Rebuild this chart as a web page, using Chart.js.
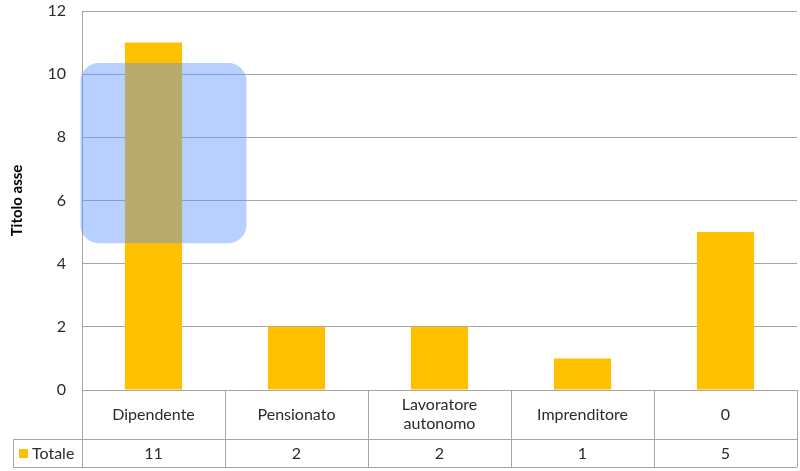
<!DOCTYPE html>
<html>
<head>
<meta charset="utf-8">
<script src="https://cdn.jsdelivr.net/npm/chart.js@4"></script>
<style>
  html, body { margin: 0; padding: 0; background: #fff; }
  #wrap { width: 800px; height: 471px; }
</style>
</head>
<body>
<div id="wrap"><canvas id="chart"></canvas></div>
<script>
// dati del grafico
const categorie = ['Dipendente', 'Pensionato', ['Lavoratore', 'autonomo'], 'Imprenditore', '0'];
const totale = [11, 2, 2, 1, 5];
const nomeSerie = 'Totale';
const titoloAsse = 'Titolo asse';
const yMax = 12;
const yStep = 2;

const FONT = 'Lato, "Open Sans", sans-serif';
const TEXT = '#2b2b2b';
const LINE = '#a6a6a6';

// tabella dati sotto il grafico (stile Excel)
const tabellaPlugin = {
  id: 'tabella',
  afterDraw(chart) {
    const ctx = chart.ctx;
    const x = chart.scales.x;
    const area = chart.chartArea;
    const n = categorie.length;
    const half = (x.getPixelForValue(1) - x.getPixelForValue(0)) / 2;
    const top = area.bottom;
    const mid = top + 49;
    const bottom = top + 77;
    const legLeft = 13;

    ctx.save();
    ctx.strokeStyle = LINE;
    ctx.lineWidth = 1;
    ctx.beginPath();
    // linee orizzontali
    ctx.moveTo(area.left, top + 0.5); ctx.lineTo(area.right, top + 0.5);
    ctx.moveTo(legLeft, mid + 0.5); ctx.lineTo(area.right, mid + 0.5);
    ctx.moveTo(legLeft, bottom + 0.5); ctx.lineTo(area.right, bottom + 0.5);
    // linee verticali
    ctx.moveTo(legLeft + 0.5, mid); ctx.lineTo(legLeft + 0.5, bottom);
    for (let i = 0; i <= n; i++) {
      const px = Math.round(x.getPixelForValue(i) - half) + 0.5;
      ctx.moveTo(px, top); ctx.lineTo(px, bottom);
    }
    ctx.stroke();

    ctx.fillStyle = TEXT;
    ctx.font = '16px ' + FONT;
    ctx.textAlign = 'center';
    ctx.textBaseline = 'middle';
    categorie.forEach((c, i) => {
      const cx = x.getPixelForValue(i);
      const righe = Array.isArray(c) ? c : [c];
      const cy = (top + mid) / 2;
      righe.forEach((r, k) => {
        ctx.fillText(r, cx, cy + (k - (righe.length - 1) / 2) * 19);
      });
      ctx.fillText(String(totale[i]), cx, (mid + bottom) / 2 + 1);
    });

    // legenda nella tabella
    ctx.fillStyle = '#ffc000';
    ctx.fillRect(19, (mid + bottom) / 2 - 4, 9, 9);
    ctx.fillStyle = TEXT;
    ctx.textAlign = 'left';
    ctx.fillText(nomeSerie, 32, (mid + bottom) / 2 + 1);
    ctx.restore();
  }
};

// riquadro blu semitrasparente sopra la prima colonna
const evidenziaPlugin = {
  id: 'evidenzia',
  afterDatasetsDraw(chart) {
    const ctx = chart.ctx;
    const x = chart.scales.x;
    const y = chart.scales.y;
    const c = x.getPixelForValue(0);
    const l = c - 73, r = c + 93;
    const t = y.getPixelForValue(10.35), b = y.getPixelForValue(4.65);
    ctx.save();
    ctx.fillStyle = 'rgba(88, 146, 255, 0.43)';
    ctx.beginPath();
    ctx.roundRect(l, t, r - l, b - t, 18);
    ctx.fill();
    ctx.restore();
  }
};

new Chart(document.getElementById('chart'), {
  type: 'bar',
  data: {
    labels: categorie,
    datasets: [{
      label: nomeSerie,
      data: totale,
      backgroundColor: '#ffc000',
      borderWidth: 0,
      barPercentage: 0.4,
      categoryPercentage: 1.0
    }]
  },
  options: {
    responsive: true,
    maintainAspectRatio: false,
    animation: false,
    layout: { padding: { top: 11, right: 3, bottom: 81, left: 0 } },
    plugins: {
      legend: { display: false },
      tooltip: { enabled: false }
    },
    scales: {
      x: { display: false },
      y: {
        min: 0,
        max: yMax,
        ticks: {
          stepSize: yStep,
          padding: 16,
          color: TEXT,
          font: { family: FONT, size: 16 }
        },
        grid: { color: LINE, drawTicks: false },
        border: { color: LINE },
        title: {
          display: true,
          text: titoloAsse,
          color: '#000',
          font: { family: FONT, size: 15, weight: 'bold' },
          padding: { top: 8, bottom: 0 }
        },
        afterFit(scale) {
          scale.width = 82;
          scale.paddingTop = 0;
          scale.paddingBottom = 0;
        }
      }
    }
  },
  plugins: [tabellaPlugin, evidenziaPlugin]
});
</script>
</body>
</html>
